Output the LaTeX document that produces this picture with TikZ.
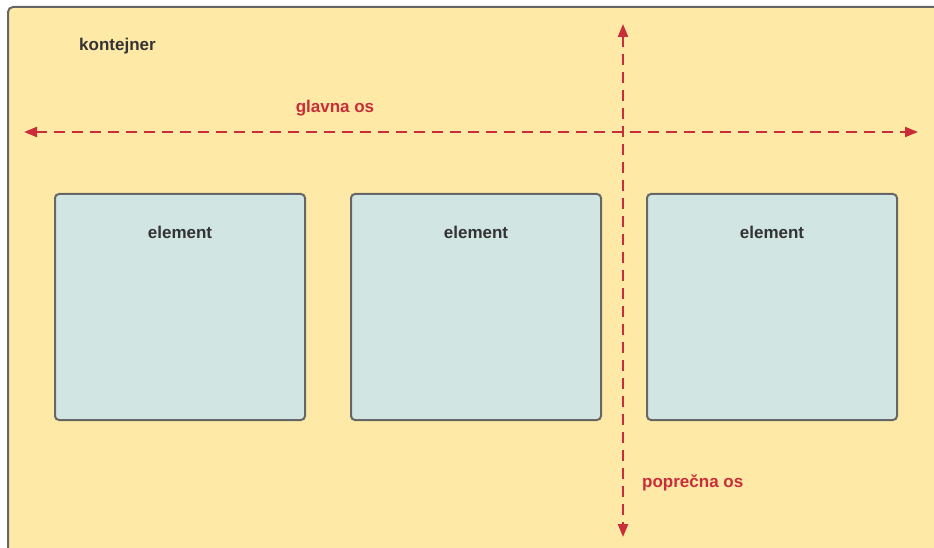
\documentclass[tikz,border=0pt]{standalone}
\usepackage{fontspec}
\setmainfont{Liberation Sans}
\usepackage{tikz}
\usetikzlibrary{arrows.meta}
\usetikzlibrary{positioning}
\definecolor{kontfill}{HTML}{FFE9A6}
\definecolor{elfill}{HTML}{D1E6E3}
\definecolor{rub}{HTML}{666666}
\definecolor{osred}{HTML}{C92D39}
\definecolor{tekst}{HTML}{333333}
\tikzstyle{elem}=[draw=rub, fill=elfill, line width=2pt, rounded corners=4pt,
                minimum width=250pt, minimum height=226pt, inner sep=0, outer sep=0]
\tikzstyle{elabel}=[text=tekst, inner sep=0, font=\fontsize{17}{20}\selectfont\bfseries]
\tikzstyle{oslabel}=[text=osred, inner sep=0, font=\fontsize{17}{20}\selectfont\bfseries]
\tikzstyle{os}=[draw=osred, line width=2.2pt, dash pattern=on 11pt off 7pt,
                {Triangle[length=13pt,width=10pt]}-{Triangle[length=13pt,width=10pt]}]

\begin{document}
\begin{tikzpicture}[x=1pt, y=-1pt]
  \path[use as bounding box] (0,0) rectangle (934,548);
  \begin{scope}
    \clip (0,0) rectangle (934,548);
    \draw[draw=rub, fill=kontfill, line width=2pt, rounded corners=5pt]
      (8,7) rectangle (960,575);
  \end{scope}
  \node[elabel, anchor=west] (kont) at (79,46) {kontejner};
  \node[elem, anchor=north west] (e1) at (55,194) {};
  \node[elem, right=46pt of e1] (e2) {};
  \node[elem, right=46pt of e2] (e3) {};
  \node[elabel] (t1) at ([yshift=-38pt]e1.north) {element};
  \node[elabel] (t2) at ([yshift=-38pt]e2.north) {element};
  \node[elabel] (t3) at ([yshift=-38pt]e3.north) {element};
  % osi
  \coordinate (gl1) at (24,132);
  \coordinate (gl2) at (918,132);
  \coordinate (po1) at (623,24);
  \coordinate (po2) at (623,537);
  \draw[os] (gl1) -- (gl2);
  \draw[os] (po1) -- (po2);
  \node[oslabel] (glavna) at (335,108) {glavna os};
  \node[oslabel, anchor=west] (poprecna) at (642,483) {poprečna os};
\end{tikzpicture}
\end{document}
